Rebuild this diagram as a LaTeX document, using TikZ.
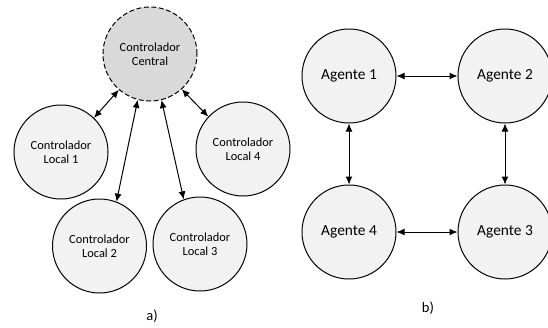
\documentclass[tikz,border=0pt]{standalone}
\usepackage{fontspec}
\setmainfont{Carlito}
\usetikzlibrary{arrows.meta}
\definecolor{lightfill}{HTML}{F2F2F2}
\definecolor{darkfill}{HTML}{D9D9D9}
\begin{document}
\begin{tikzpicture}[x=1pt,y=-1pt,
  ctrl/.style={circle,draw,line width=1pt,fill=lightfill,minimum size=94pt,inner sep=0pt,align=center,font=\fontsize{12.4}{14}\selectfont},
  agent/.style={circle,draw,line width=1pt,fill=lightfill,minimum size=94pt,inner sep=0pt,font=\fontsize{15.4}{18}\selectfont},
  link/.style={line width=1pt,{Latex[length=8pt,width=7pt]}-{Latex[length=8pt,width=7pt]}},
  caption/.style={font=\fontsize{14.5}{16}\selectfont}]
\useasboundingbox (0,0) rectangle (548,327);
% a)
\node[ctrl,fill=darkfill,dash pattern=on 5pt off 2.5pt] (c) at (150,54) {Controlador\\Central};
\node[ctrl] (l1) at (61,152) {Controlador\\Local 1};
\node[ctrl] (l2) at (99.5,246) {Controlador\\Local 2};
\node[ctrl] (l3) at (200,244) {Controlador\\Local 3};
\node[ctrl] (l4) at (243,149) {Controlador\\Local 4};
\draw[link] (c.-131) -- (l1.46);
\draw[link] (c.-105) -- (l2.69);
\draw[link] (c.-76) -- (l3.110);
\draw[link] (c.-48) -- (l4.137);
\node[caption] (ca) at (152,316) {a)};
% b)
\node[agent] (a1) at (349,76) {Agente 1};
\node[agent] (a2) at (505,76) {Agente 2};
\node[agent] (a3) at (505,232) {Agente 3};
\node[agent] (a4) at (349,232) {Agente 4};
\draw[link] (a1) -- (a2);
\draw[link] (a4) -- (a3);
\draw[link] (a1) -- (a4);
\draw[link] (a2) -- (a3);
\node[caption] (cb) at (428,308) {b)};
\end{tikzpicture}
\end{document}
